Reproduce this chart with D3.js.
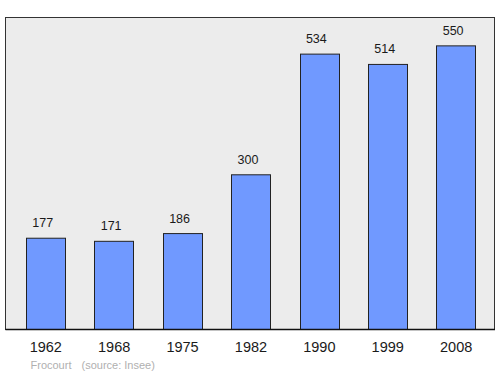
<!DOCTYPE html>
<html><head><meta charset="utf-8">
<script src="https://cdn.jsdelivr.net/npm/d3@7"></script>
<style>body{margin:0;background:#fff}svg{display:block;font-family:"Liberation Sans",Arial,sans-serif}</style>
</head><body><svg id="c" width="500" height="374"></svg>
<script>
const years = ["1962","1968","1975","1982","1990","1999","2008"];
const population = [177,171,186,300,534,514,550];
const commune = "Frocourt";
const source = "(source: Insee)";

const svg = d3.select("#c");
const L=5.5, R=494.5, T=17.5, B=329.5;
const x = d3.scaleBand().domain(years).range([5.5, 496.4]).paddingInner(0.4225).paddingOuter(0.3);
const y = d3.scaleLinear().domain([0, 605]).range([B, T]);

svg.append("rect").attr("x",L).attr("y",T).attr("width",R-L).attr("height",B-T)
  .attr("fill","#ececec").attr("stroke","#333").attr("stroke-width",1);

const data = years.map((d,i)=>({year:d, v:population[i]}));
svg.selectAll("rect.bar").data(data).join("rect").attr("class","bar")
  .attr("x",d=>Math.round(x(d.year))+0.5).attr("width",Math.round(x.bandwidth()))
  .attr("y",d=>y(d.v)).attr("height",d=>B-y(d.v))
  .attr("fill","#7099ff").attr("stroke","#222").attr("stroke-width",1);

svg.selectAll("text.val").data(data).join("text").attr("class","val")
  .attr("x",d=>x(d.year)+x.bandwidth()/2-3).attr("y",d=>y(d.v)-11)
  .attr("text-anchor","middle").attr("font-size",12.5).attr("fill","#1a1a1a").text(d=>d.v);

svg.append("line").attr("x1",L).attr("x2",R+0.5).attr("y1",B).attr("y2",B).attr("stroke","#111").attr("stroke-width",1.6);

const ax = svg.append("g").attr("transform",`translate(0,${B})`)
  .call(d3.axisBottom(x).tickSize(0).tickPadding(0));
ax.select(".domain").remove();
ax.selectAll("text").attr("y",22.5).attr("dy",null).attr("font-size",14.5).attr("fill","#1a1a1a")
  .attr("font-family","'Liberation Sans',Arial,sans-serif");

svg.append("text").attr("x",30.5).attr("y",368.5).attr("font-size",11).attr("fill","#b0b0b0").text(commune);
svg.append("text").attr("x",81.5).attr("y",368.5).attr("font-size",11).attr("fill","#b0b0b0").text(source);
</script></body></html>
